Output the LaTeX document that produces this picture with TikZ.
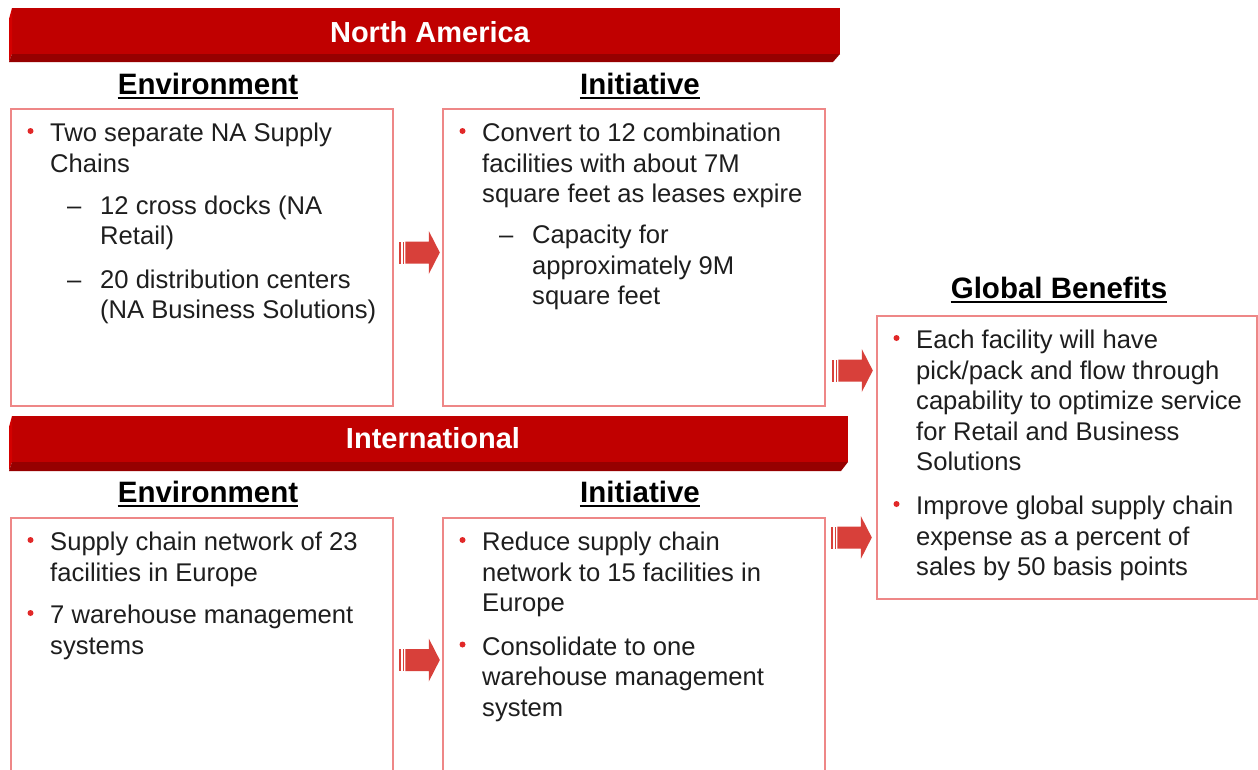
\documentclass[tikz,border=0pt]{standalone}
\usepackage{fontspec}
\setmainfont{Liberation Sans}
\usetikzlibrary{calc}

\definecolor{barface}{RGB}{192,0,0}
\definecolor{barbottom}{RGB}{150,0,0}
\definecolor{barside}{RGB}{212,0,0}
\definecolor{boxline}{RGB}{238,135,135}
\definecolor{arrowred}{RGB}{216,64,58}
\definecolor{dotred}{RGB}{225,40,40}
\definecolor{bodytext}{RGB}{30,30,30}

\newcommand{\txtpara}[1]{\parbox[t]{400pt}{\raggedright #1}}

\tikzset{
  panel/.style={draw=boxline, line width=1.8pt, anchor=north west, inner sep=0pt},
  bodytxt/.style={font=\fontsize{25.6}{30.5}\selectfont, text=bodytext, inner sep=0pt, anchor=base west},
  hdr/.style={font=\fontsize{29.5}{34}\selectfont\bfseries, text=black, inner sep=0pt, anchor=base},
  bartitle/.style={font=\fontsize{29}{34}\selectfont\bfseries, text=white, inner sep=0pt, anchor=base},
  dot/.style={circle, fill=dotred, inner sep=0pt, minimum size=6pt},
  pics/stripedarrow/.style={code={
    \fill[arrowred] (0,-11) rectangle (2.5,11);
    \fill[arrowred] (3.8,-11) rectangle (5.3,11);
    \fill[arrowred] (6.5,-11) -- (30,-11) -- (30,-21.5) -- (41,0) -- (30,21.5) -- (30,11) -- (6.5,11) -- cycle;
  }}
}

% bullet dot placed relative to a paragraph's first baseline
\newcommand{\bulletat}[3]{\node[dot] (#1) at ($(#2.base west)+(-19.5,-10.5)$) {};}
\newcommand{\underlinehdr}[1]{\draw[line width=1.8pt] ([yshift=-3.8pt]#1.base west) -- ([yshift=-3.8pt]#1.base east);}

\begin{document}
\begin{tikzpicture}[x=1pt, y=-1pt]
\useasboundingbox (0,0) rectangle (1258,769);
\fill[white] (0,0) rectangle (1258,769);
\clip (0,0) rectangle (1258,769);

% ---- North America bar ----
\fill[barface] (12,8) rectangle (840,54);
\fill[barside] (9,19) -- (12,8) -- (12,54) -- (9,62) -- cycle;
\fill[barbottom] (9,62) -- (12,54) -- (840,54) -- (833,62) -- cycle;
\node[bartitle] (natitle) at (430,42) {North America};

% ---- International bar ----
\fill[barface] (12,416) rectangle (848,462);
\fill[barside] (9,427) -- (12,416) -- (12,462) -- (9,471) -- cycle;
\fill[barbottom] (9,471) -- (12,462) -- (848,462) -- (841,471) -- cycle;
\node[bartitle] (inttitle) at (433,448) {International};

% ---- headers ----
\node[hdr] (hnaenv) at (208,94) {Environment};
\node[hdr] (hnainit) at (640,94) {Initiative};
\node[hdr] (hglob) at (1059,298) {Global Benefits};
\node[hdr] (hintenv) at (208,502) {Environment};
\node[hdr] (hintinit) at (640,502) {Initiative};
\underlinehdr{hnaenv}
\underlinehdr{hnainit}
\underlinehdr{hglob}
\underlinehdr{hintenv}
\underlinehdr{hintinit}

% ---- panels ----
\node[panel, minimum width=382pt, minimum height=297pt] (naenv) at (10,108) {};
\node[panel, minimum width=382pt, minimum height=297pt] (nainit) at (442,108) {};
\node[panel, minimum width=380pt, minimum height=283pt] (glob) at (876,315) {};
\node[panel, minimum width=382pt, minimum height=280pt] (intenv) at (10,517) {};
\node[panel, minimum width=382pt, minimum height=280pt] (intinit) at (442,517) {};

% ---- North America / Environment ----
\node[bodytxt] (p1) at (50,141.5) {\txtpara{Two separate NA Supply\\Chains}};
\bulletat{d1}{p1}{}
\node[bodytxt] (s1d) at (67,214) {–};
\node[bodytxt] (s1) at (100,214) {\txtpara{12 cross docks (NA\\Retail)}};
\node[bodytxt] (s2d) at (67,288) {–};
\node[bodytxt] (s2) at (100,288) {\txtpara{20 distribution centers\\(NA Business Solutions)}};

% ---- North America / Initiative ----
\node[bodytxt] (p2) at (482,141.5) {\txtpara{Convert to 12 combination\\facilities with about 7M\\square feet as leases expire}};
\bulletat{d2}{p2}{}
\node[bodytxt] (s3d) at (499,243.5) {–};
\node[bodytxt] (s3) at (532,243.5) {\txtpara{Capacity for\\approximately 9M\\square feet}};

% ---- Global Benefits ----
\node[bodytxt] (p3) at (916,348.5) {\txtpara{Each facility will have\\pick/pack and flow through\\capability to optimize service\\for Retail and Business\\Solutions}};
\bulletat{d3}{p3}{}
\node[bodytxt] (p4) at (916,514.5) {\txtpara{Improve global supply chain\\expense as a percent of\\sales by 50 basis points}};
\bulletat{d4}{p4}{}

% ---- International / Environment ----
\node[bodytxt] (p5) at (50,550.5) {\txtpara{Supply chain network of 23\\facilities in Europe}};
\bulletat{d5}{p5}{}
\node[bodytxt] (p6) at (50,623.5) {\txtpara{7 warehouse management\\systems}};
\bulletat{d6}{p6}{}

% ---- International / Initiative ----
\node[bodytxt] (p7) at (482,550.5) {\txtpara{Reduce supply chain\\network to 15 facilities in\\Europe}};
\bulletat{d7}{p7}{}
\node[bodytxt] (p8) at (482,655) {\txtpara{Consolidate to one\\warehouse management\\system}};
\bulletat{d8}{p8}{}

% ---- striped block arrows between panels ----
\coordinate (a1) at ($(naenv.north east)+(5,144.5)$);
\coordinate (a2) at ($(nainit.north east)+(6,262.5)$);
\coordinate (a3) at ($(intinit.north east)+(5,20.5)$);
\coordinate (a4) at ($(intenv.north east)+(5,143)$);
\pic at (a1) {stripedarrow};
\pic at (a2) {stripedarrow};
\pic at (a3) {stripedarrow};
\pic at (a4) {stripedarrow};
\end{tikzpicture}
\end{document}
